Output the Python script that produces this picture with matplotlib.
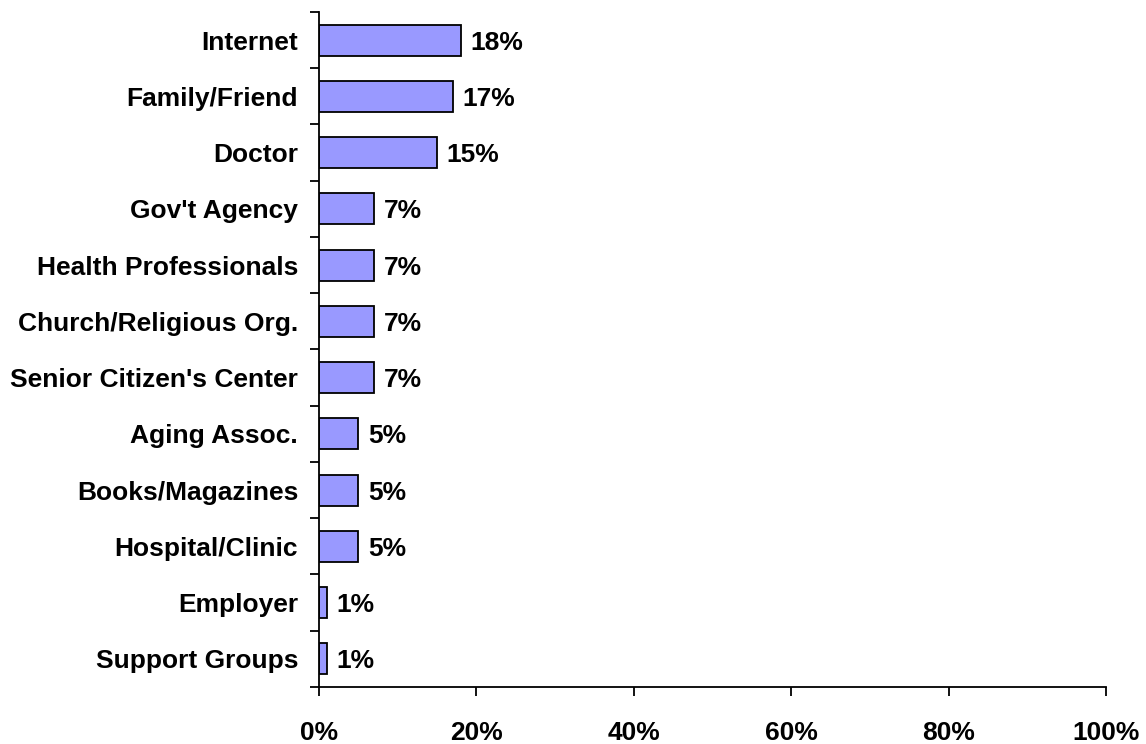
import matplotlib.pyplot as plt
import numpy as np
from matplotlib.ticker import FixedLocator, PercentFormatter

plt.rcParams['font.family'] = ['Liberation Sans', 'DejaVu Sans']
plt.rcParams['font.weight'] = 'bold'

categories = ["Internet", "Family/Friend", "Doctor", "Gov't Agency",
              "Health Professionals", "Church/Religious Org.",
              "Senior Citizen's Center", "Aging Assoc.", "Books/Magazines",
              "Hospital/Clinic", "Employer", "Support Groups"]
values = [18, 17, 15, 7, 7, 7, 7, 5, 5, 5, 1, 1]
xticks = [0, 20, 40, 60, 80, 100]

fig = plt.figure(figsize=(11.46, 7.44), dpi=100)
ax = fig.add_axes([0.2784, 0.0766, 0.9651 - 0.2784, 0.984 - 0.0766])

n = len(categories)
y = np.arange(n)
ax.barh(y, values, height=0.55, color="#9999FF", edgecolor="black", linewidth=1.3)
for yi, v in zip(y, values):
    ax.text(v + 1.2, yi, f"{v}%", va="center_baseline", ha="left",
            fontsize=19, fontweight="bold")

ax.set_xlim(0, 100)
ax.set_ylim(n - 0.5, -0.5)
ax.set_yticks(y)
ax.set_yticklabels(categories, fontsize=19, fontweight="bold")
ax.yaxis.set_minor_locator(FixedLocator(np.arange(-0.5, n, 1.0)))
ax.tick_params(axis="y", which="major", length=0, pad=15)
ax.tick_params(axis="y", which="minor", length=6.5, width=1.3)
ax.set_xticks(xticks)
ax.xaxis.set_major_formatter(PercentFormatter(decimals=0))
ax.tick_params(axis="x", length=6.5, width=1.3, labelsize=19, pad=18)
for lbl in ax.get_xticklabels():
    lbl.set_fontweight("bold")

for s in ["top", "right"]:
    ax.spines[s].set_visible(False)
for s in ["left", "bottom"]:
    ax.spines[s].set_linewidth(1.3)

fig.savefig("out.png", dpi=100)
